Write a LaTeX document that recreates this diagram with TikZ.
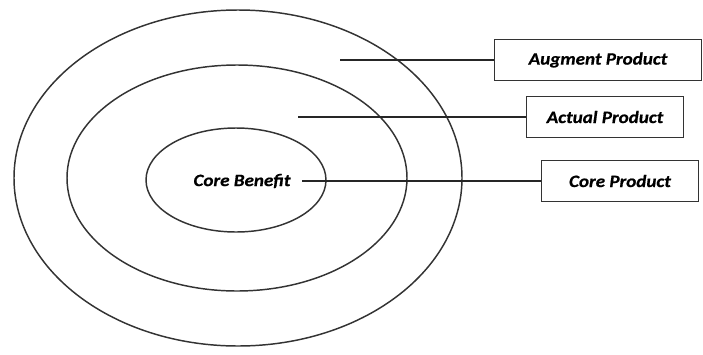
\documentclass[tikz,border=0pt]{standalone}
\usepackage{fontspec}
\setmainfont{Carlito}
\newfontfamily\calbi{Carlito-BoldItalic.ttf}[FakeStretch=1.1,FakeBold=0.6]
\begin{document}
\begin{tikzpicture}[x=0.75pt,y=-0.75pt,
  ring/.style={draw=black!80,line width=1.1pt},
  lead/.style={draw=black!85,line width=1pt},
  label/.style={draw=black!80,line width=0.9pt,minimum height=31pt,inner sep=0pt,
    font=\calbi\fontsize{13}{15}\selectfont},
  tag/.style={font=\calbi\fontsize{13}{15}\selectfont,inner sep=1pt}]
\useasboundingbox (0,0) rectangle (703,354);
% nested circles of the product levels
\draw[ring] (238,178) ellipse [x radius=224, y radius=168];
\draw[ring] (237,178) ellipse [x radius=170, y radius=113];
\draw[ring] (236,180) ellipse [x radius=90, y radius=52];
% centre text
\node[tag] (benefit) at (242,181) {Core Benefit};
% boxes on the right
\node[label,minimum width=155pt] (augment) at (598,60) {Augment Product};
\node[label,minimum width=118pt] (actual) at (605,117) {Actual Product};
\node[label,minimum width=118pt] (coreprod) at (620,181) {Core Product};
% connector start points inside the rings
\coordinate (a0) at (340,60);
\coordinate (b0) at (298,117);
\coordinate (c0) at (302,181);
\draw[lead] (a0) -- (augment.west);
\draw[lead] (b0) -- (actual.west);
\draw[lead] (c0) -- (coreprod.west);
\end{tikzpicture}
\end{document}
